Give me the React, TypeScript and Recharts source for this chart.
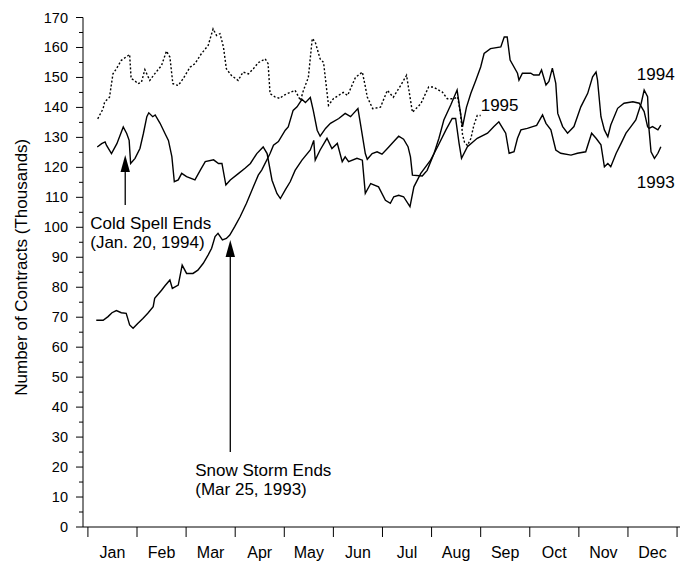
import React from 'react';
import { LineChart, Line, XAxis, YAxis, ReferenceLine, ReferenceDot } from 'recharts';

// x positions are in months from Jan 1 (0 = start of Jan, 12 = end of Dec)
const months = ['Jan', 'Feb', 'Mar', 'Apr', 'May', 'Jun', 'Jul', 'Aug', 'Sep', 'Oct', 'Nov', 'Dec'];
const monthTicks = [0, 1, 2, 3, 4, 5, 6, 7, 8, 9, 10, 11, 12];
const yTicks = [0, 5, 10, 15, 20, 25, 30, 35, 40, 45, 50, 55, 60, 65, 70, 75, 80, 85, 90, 95, 100, 105, 110, 115, 120, 125, 130, 135, 140, 145, 150, 155, 160, 165, 170];

const x1993 = [0.17, 0.31, 0.41, 0.49, 0.58, 0.68, 0.78, 0.85, 0.92, 1.02, 1.12, 1.22, 1.33, 1.36, 1.5, 1.57, 1.67, 1.72, 1.84, 1.92, 2.01, 2.14, 2.24, 2.35, 2.45, 2.52, 2.59, 2.65, 2.74, 2.82, 2.89, 2.99, 3.1, 3.23, 3.37, 3.47, 3.54, 3.71, 3.78, 3.88, 4.02, 4.08, 4.18, 4.26, 4.36, 4.43, 4.53, 4.59, 4.67, 4.73, 4.84, 4.94, 5.11, 5.24, 5.35, 5.41, 5.5, 5.55, 5.65, 5.69, 5.79, 5.89, 5.99, 6.1, 6.23, 6.33, 6.43, 6.52, 6.57, 6.61, 6.81, 6.91, 7.05, 7.15, 7.25, 7.39, 7.52, 7.59, 7.63, 7.71, 7.8, 7.9, 8.0, 8.07, 8.2, 8.41, 8.48, 8.54, 8.6, 8.75, 8.78, 8.85, 9.02, 9.08, 9.19, 9.24, 9.33, 9.39, 9.46, 9.53, 9.57, 9.67, 9.77, 9.9, 10.04, 10.18, 10.28, 10.35, 10.38, 10.45, 10.52, 10.59, 10.65, 10.79, 10.92, 11.1, 11.23, 11.33, 11.4, 11.43, 11.5, 11.61, 11.67];
const v1993 = [69, 69, 70.2, 71.5, 72.2, 71.5, 71.3, 67.4, 66.3, 68, 69.6, 71.3, 73.5, 76.3, 79, 80.5, 82.4, 79.6, 80.7, 87.4, 84.6, 84.6, 85.7, 88, 90.8, 93, 96.9, 98, 95.8, 96.3, 97.4, 100.2, 103.5, 108, 113.5, 117.4, 119.1, 124.6, 127.4, 128.6, 132.4, 133.5, 139, 140.2, 142.7, 141.6, 143.3, 139, 132.4, 130.4, 133, 134.7, 136.3, 138, 136.9, 138, 139.6, 134.7, 124.6, 122.7, 124.6, 125.2, 124.4, 126.3, 128.6, 130.4, 129.4, 126.9, 123.5, 117.4, 117.1, 119, 124.6, 129.7, 135.8, 140.8, 145.8, 138, 133.5, 140, 144.7, 149, 153.5, 158, 159.6, 160.2, 163.5, 163.5, 155.8, 151.4, 149.1, 151.4, 151.4, 150.8, 150.8, 152.5, 147.5, 148.7, 153.1, 148, 138, 133.6, 131.4, 133.6, 140.2, 144.7, 150.2, 151.8, 149.1, 136.9, 132.5, 130.2, 134.1, 139.7, 141.4, 141.9, 141.4, 138.6, 133.6, 133, 133.6, 132.5, 134.1];

const x1994 = [0.19, 0.28, 0.35, 0.38, 0.48, 0.59, 0.72, 0.79, 0.84, 0.87, 0.96, 1.06, 1.13, 1.2, 1.24, 1.32, 1.37, 1.47, 1.57, 1.64, 1.71, 1.76, 1.84, 1.91, 2.01, 2.18, 2.29, 2.39, 2.56, 2.66, 2.73, 2.81, 2.9, 3.07, 3.2, 3.31, 3.44, 3.57, 3.65, 3.75, 3.85, 3.92, 4.02, 4.12, 4.22, 4.36, 4.53, 4.6, 4.63, 4.73, 4.87, 4.97, 5.08, 5.18, 5.24, 5.31, 5.48, 5.59, 5.65, 5.76, 5.92, 6.06, 6.16, 6.23, 6.33, 6.43, 6.56, 6.64, 6.78, 6.98, 7.12, 7.29, 7.42, 7.49, 7.56, 7.61, 7.73, 7.93, 8.14, 8.27, 8.37, 8.45, 8.51, 8.58, 8.68, 8.75, 8.82, 8.95, 9.06, 9.14, 9.26, 9.33, 9.43, 9.53, 9.63, 9.84, 9.97, 10.14, 10.26, 10.35, 10.45, 10.52, 10.59, 10.65, 10.76, 10.86, 10.96, 11.06, 11.16, 11.27, 11.33, 11.4, 11.43, 11.47, 11.54, 11.61, 11.67];
const v1994 = [126.8, 127.9, 128.5, 127.3, 124.6, 127.9, 133.5, 131.3, 129, 121.3, 123, 126.3, 131.3, 136.9, 138.2, 136.9, 137.5, 134.7, 131.3, 129, 123.6, 115.2, 115.8, 118, 116.9, 115.8, 119.1, 121.9, 122.5, 121.3, 121.3, 114.1, 115.8, 118, 119.7, 121.3, 124.6, 126.8, 124.6, 115.7, 111.3, 109.6, 112.5, 115.2, 119, 122.4, 125.8, 129, 122.4, 125.8, 129.7, 126.3, 128, 121.9, 123.5, 121.9, 123, 122.4, 111.3, 114.6, 113.5, 109, 108, 110.2, 110.7, 110.2, 106.9, 113.5, 118, 122.4, 126.8, 132.4, 136.3, 136.3, 128, 123, 126.9, 129.7, 131.4, 133.6, 135.2, 133, 131.4, 124.7, 125.2, 129.7, 132.5, 133, 133.6, 134, 137.5, 134.7, 132.5, 125.8, 124.7, 124.1, 124.7, 125.2, 131.4, 129.7, 127.5, 120.2, 121.3, 120.2, 124.7, 128, 131.4, 133.6, 135.8, 141.4, 145.8, 143.6, 132.5, 125.2, 123, 124.7, 126.9];

const x1995 = [0.2, 0.31, 0.34, 0.44, 0.51, 0.58, 0.68, 0.82, 0.85, 0.88, 0.95, 1.02, 1.09, 1.16, 1.26, 1.36, 1.5, 1.6, 1.67, 1.73, 1.84, 1.94, 2.08, 2.18, 2.31, 2.45, 2.55, 2.62, 2.69, 2.76, 2.82, 2.92, 3.06, 3.16, 3.27, 3.37, 3.47, 3.61, 3.67, 3.71, 3.81, 3.91, 3.98, 4.12, 4.22, 4.33, 4.39, 4.49, 4.57, 4.63, 4.73, 4.8, 4.9, 5.0, 5.2, 5.29, 5.45, 5.59, 5.65, 5.69, 5.8, 5.96, 6.1, 6.22, 6.37, 6.49, 6.61, 6.78, 6.94, 7.04, 7.22, 7.32, 7.46, 7.53, 7.59, 7.63, 7.67, 7.73, 7.8, 7.86, 7.93, 8.0];
const v1995 = [136.2, 139.6, 141.8, 143.4, 151.2, 152.9, 155.7, 157.3, 157.7, 149.6, 149, 147.9, 148.4, 152.6, 149, 151.2, 154, 158.8, 156.8, 147.9, 147.3, 149.6, 153.4, 154.6, 157.9, 160.7, 166.2, 164, 164.6, 160.2, 152.9, 150.7, 149, 151.8, 151.2, 152.9, 154.9, 156.2, 154.6, 144.6, 143.5, 143, 144, 145, 145.7, 142.3, 145.7, 150, 163, 161.8, 156.2, 155, 140.7, 142.9, 145, 144, 150, 151.8, 147, 143.5, 139.6, 140.1, 145.7, 143.4, 147.3, 150.7, 138.4, 141.2, 146.8, 146.8, 145.1, 142.9, 142.9, 143.5, 137.9, 131, 128.4, 127.3, 129.6, 134, 137.3, 137.3];

// annotations: arrow x (month), arrow tip value, arrow foot value, text lines
const coldSpell = { x: 0.76, tip: 124.1, foot: 107.4, lines: ['Cold Spell Ends', '(Jan. 20, 1994)'] };
const snowStorm = { x: 2.9, tip: 95.8, foot: 25.0, lines: ['Snow Storm Ends', '(Mar 25, 1993)'] };
const seriesLabels = [
  { text: '1995', x: 8.0, y: 138.8 },
  { text: '1994', x: 11.18, y: 149.2 },
  { text: '1993', x: 11.18, y: 113.2 },
];

const FONT = '"Liberation Sans", Arial, Helvetica, sans-serif';

const rows: any[] = [];
x1993.forEach((x, i) => rows.push({ x, y1993: v1993[i] }));
x1994.forEach((x, i) => rows.push({ x, y1994: v1994[i] }));
x1995.forEach((x, i) => rows.push({ x, y1995: v1995[i] }));
rows.sort((a, b) => a.x - b.x);

const YTick = (props: any) => {
  const { x, y, payload } = props;
  const v = payload.value;
  const major = v % 10 === 0;
  return (
    <g>
      <line x1={x - (major ? 7 : 4)} y1={y} x2={x} y2={y} stroke="#000" strokeWidth={1} />
      {major && (
        <text x={x - 15} y={y + 5} textAnchor="end" fontSize={14.5} fontFamily={FONT} fill="#000">
          {v}
        </text>
      )}
    </g>
  );
};

const XTick = (props: any) => {
  const { x, y, payload } = props;
  const v = payload.value;
  return (
    <g>
      <line x1={x} y1={y} x2={x} y2={y + 10} stroke="#000" strokeWidth={1} />
      {v < 12 && (
        <text x={x + 24.5} y={y + 31} textAnchor="middle" fontSize={16} fontFamily={FONT} fill="#000">
          {months[v]}
        </text>
      )}
    </g>
  );
};

const makeArrow = (lines: string[]) => (props: any) => {
  const { x1, y1, x2, y2 } = props;
  const ax = (x1 + x2) / 2;
  const top = Math.min(y1, y2);
  const bottom = Math.max(y1, y2);
  const head = 17;
  return (
    <g>
      <line x1={ax} y1={bottom} x2={ax} y2={top + head} stroke="#000" strokeWidth={1.3} />
      <polygon points={`${ax},${top} ${ax - 4.7},${top + head} ${ax + 4.7},${top + head}`} fill="#000" />
      {lines.map((t, i) => (
        <text key={i} x={ax - 35} y={bottom + 24 + i * 18.5} fontSize={17} fontFamily={FONT} fill="#000">
          {t}
        </text>
      ))}
    </g>
  );
};

const makeLabel = (text: string) => (props: any) => {
  const { cx, cy } = props;
  return (
    <text x={cx} y={cy} fontSize={17} fontFamily={FONT} fill="#000">
      {text}
    </text>
  );
};

const YTitle = (props: any) => {
  const vb = props.viewBox || { x: 0, y: 17.5, width: 83, height: 509.5 };
  const cx = vb.x + 21;
  const cy = vb.y + vb.height / 2 - 5;
  return (
    <text
      x={cx}
      y={cy}
      transform={`rotate(-90, ${cx}, ${cy})`}
      textAnchor="middle"
      dominantBaseline="central"
      fontSize={17}
      fontFamily={FONT}
      fill="#000"
    >
      Number of Contracts (Thousands)
    </text>
  );
};

export default function App() {
  return (
    <div style={{ position: 'absolute', left: 0, top: 0, width: 686, height: 562, background: '#fff' }}>
      <LineChart width={686} height={562} data={rows} margin={{ top: 17.5, right: 6, bottom: 0, left: 0 }}>
        <XAxis
          dataKey="x"
          type="number"
          domain={[-0.1, 12.06]}
          ticks={monthTicks}
          interval={0}
          allowDataOverflow
          height={35}
          tickSize={0}
          tickMargin={0}
          tickLine={false}
          tick={<XTick />}
          axisLine={{ stroke: '#000', strokeWidth: 1 }}
        />
        <YAxis
          type="number"
          domain={[0, 170]}
          ticks={yTicks}
          interval={0}
          allowDataOverflow
          width={83}
          tickSize={0}
          tickMargin={0}
          tickLine={false}
          tick={<YTick />}
          axisLine={{ stroke: '#000', strokeWidth: 1 }}
          label={{ content: <YTitle /> }}
        />
        <Line dataKey="y1993" type="linear" stroke="#000" strokeWidth={1.4} dot={false} activeDot={false} connectNulls isAnimationActive={false} />
        <Line dataKey="y1994" type="linear" stroke="#000" strokeWidth={1.4} dot={false} activeDot={false} connectNulls isAnimationActive={false} />
        <Line dataKey="y1995" type="linear" stroke="#000" strokeWidth={1.4} strokeDasharray="2 2" dot={false} activeDot={false} connectNulls isAnimationActive={false} />
        <ReferenceLine
          segment={[{ x: coldSpell.x, y: coldSpell.foot }, { x: coldSpell.x, y: coldSpell.tip }]}
          shape={makeArrow(coldSpell.lines)}
          ifOverflow="visible"
        />
        <ReferenceLine
          segment={[{ x: snowStorm.x, y: snowStorm.foot }, { x: snowStorm.x, y: snowStorm.tip }]}
          shape={makeArrow(snowStorm.lines)}
          ifOverflow="visible"
        />
        {seriesLabels.map((l) => (
          <ReferenceDot key={l.text} x={l.x} y={l.y} r={0} ifOverflow="visible" shape={makeLabel(l.text)} />
        ))}
      </LineChart>
    </div>
  );
}
